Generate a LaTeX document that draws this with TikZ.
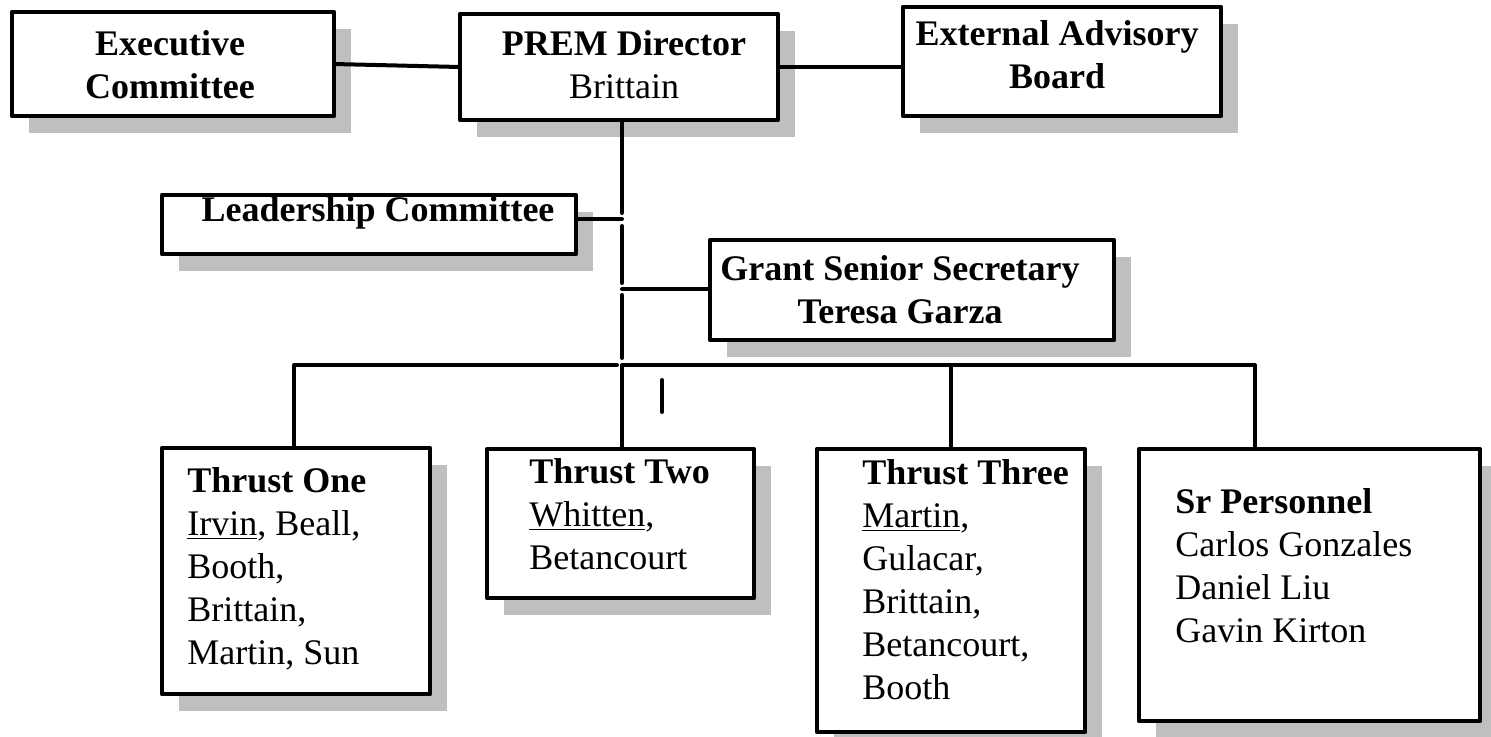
\documentclass[tikz,border=0pt]{standalone}
\usepackage{fontspec}
\setmainfont{Liberation Serif}
\usetikzlibrary{shadows}
\begin{document}
\begin{tikzpicture}[x=0.5pt,y=-0.5pt,
  box/.style={draw, line width=2.2pt, fill=white, line join=round, inner sep=0pt, outer sep=0pt,
    drop shadow={shadow xshift=8.5pt, shadow yshift=-8.5pt, fill=black!25, opacity=1}},
  conn/.style={line width=2pt, line cap=round, line join=round},
  txt/.style={inner sep=0pt, font=\fontsize{18pt}{21.5pt}\selectfont},
  lt/.style={txt, anchor=north west, align=left},
  ct/.style={txt, anchor=north, align=center}]
\useasboundingbox (0,0) rectangle (1491,736);
\clip (0,0) rectangle (1491,736);

% boxes
\node[box, minimum width=161pt, minimum height=52pt]   (exec) at (173,64) {};
\node[box, minimum width=159pt, minimum height=53pt]   (prem) at (619,67) {};
\node[box, minimum width=159pt, minimum height=54.5pt] (ext)  at (1062,61.5) {};
\node[box, minimum width=207pt, minimum height=29.5pt] (lead) at (369,224.5) {};
\node[box, minimum width=202pt, minimum height=50pt]   (sec)  at (912,290) {};
\node[box, minimum width=134pt, minimum height=123pt]  (t1)   at (296,571) {};
\node[box, minimum width=133.5pt, minimum height=74.5pt] (t2) at (620.5,523.5) {};
\node[box, minimum width=134pt, minimum height=141.5pt] (t3)  at (951,590.5) {};
\node[box, minimum width=170.5pt, minimum height=136pt] (sr)  at (1309.5,585) {};

% texts
\node[ct] (exect) at (170,27) {\rule{0pt}{14pt}\textbf{Executive}\\\textbf{Committee}};
\node[ct] (premt) at (624,27) {\rule{0pt}{14pt}\textbf{PREM Director}\\Brittain};
\node[ct] (extt)  at (1057,17) {\rule{0pt}{14pt}\textbf{External Advisory}\\\textbf{Board}};
\node[ct] (leadt) at (378,193) {\rule{0pt}{14pt}\textbf{Leadership Committee}};
\node[ct] (sect)  at (900,252) {\rule{0pt}{14pt}\textbf{Grant Senior Secretary}\\\textbf{Teresa Garza}};
\node[lt] (t1t) at (187,464) {\rule{0pt}{14pt}\textbf{Thrust One}\\\underline{Irvin}, Beall,\\Booth,\\Brittain,\\Martin, Sun};
\node[lt] (t2t) at (529,455) {\rule{0pt}{14pt}\textbf{Thrust Two}\\\underline{Whitten},\\Betancourt};
\node[lt] (t3t) at (862,456) {\rule{0pt}{14pt}\textbf{Thrust Three}\\\underline{Martin},\\Gulacar,\\Brittain,\\Betancourt,\\Booth};
\node[lt] (srt) at (1175,485) {\rule{0pt}{14pt}\textbf{Sr Personnel}\\Carlos Gonzales\\Daniel Liu\\Gavin Kirton};

% junction coordinates
\coordinate (j1) at (622,219);
\coordinate (j2) at (622,289);
\coordinate (j3) at (622,365);
\coordinate (g1a) at (622,213);
\coordinate (g1b) at (622,226);
\coordinate (g2a) at (622,283);
\coordinate (g2b) at (622,295);
\coordinate (g3a) at (622,358);
\coordinate (bl) at (294,365);
\coordinate (bm) at (617,365);
\coordinate (br) at (1255,365);
\coordinate (m1) at (662,380);
\coordinate (m2) at (662,412);

% connectors
\draw[conn] (exec.east) -- (prem.west);
\draw[conn] (prem.east) -- (prem.east -| ext.west);
\draw[conn] (prem.south -| j1) -- (g1a);
\draw[conn] (g1b) -- (g2a);
\draw[conn] (g2b) -- (g3a);
\draw[conn] (lead.east |- j1) -- (j1);
\draw[conn] (j2) -- (j2 -| sec.west);
\draw[conn] (t1.north -| bl) -- (bl) -- (bm);
\draw[conn] (t2.north -| j3) -- (j3) -- (br) -- (sr.north -| br);
\draw[conn] (t3.north) -- (t3.north |- j3);
\draw[conn] (m1) -- (m2);
\end{tikzpicture}
\end{document}
